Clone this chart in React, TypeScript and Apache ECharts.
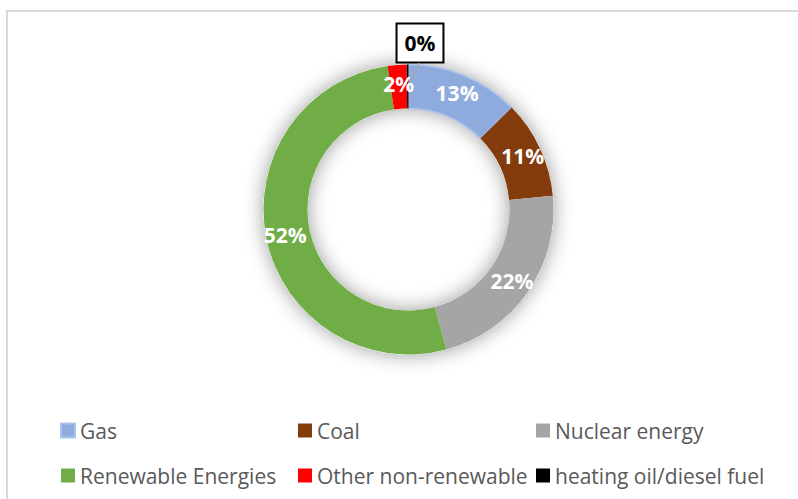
import React, { useEffect, useRef } from "react";
import * as echarts from "echarts";

const categories = ["Gas", "Coal", "Nuclear energy", "Renewable Energies", "Other non-renewable", "heating oil/diesel fuel"];
const shares = [12.6, 10.9, 22.3, 51.9, 2.1, 0.2];
const colors = ["#8FAADC", "#843C0C", "#A5A5A5", "#70AD47", "#FF0000", "#000000"];
const legendColumns = [
  ["Gas", "Renewable Energies"],
  ["Coal", "Other non-renewable"],
  ["Nuclear energy", "heating oil/diesel fuel"],
];

const FONT = "'Open Sans', sans-serif";

export default function App() {
  const ref = useRef<HTMLDivElement>(null);

  useEffect(() => {
    if (!ref.current) return;
    const chart = echarts.init(ref.current, null, { renderer: "svg" });
    const center = [408.5, 209.5];
    const radius = [101, 145];

    const data = categories.map((name, i) => {
      const item: any = {
        name,
        value: shares[i],
        itemStyle: { color: colors[i] },
      };
      if (i === 0) {
        item.itemStyle.borderColor = "#A9C6EE";
        item.itemStyle.borderWidth = 1.5;
      }
      if (i === categories.length - 1) {
        item.label = {
          position: "outside",
          color: "#000",
          backgroundColor: "#fff",
          borderColor: "#000",
          borderWidth: 2,
          padding: [6, 7],
          lineHeight: 25,
        };
        item.labelLine = { show: false };
      }
      return item;
    });

    const legendBase = {
      orient: "vertical",
      top: 420,
      padding: 0,
      itemWidth: 14,
      itemHeight: 14,
      itemGap: 24,
      icon: "rect",
      selectedMode: false,
      textStyle: { fontFamily: FONT, fontSize: 21, color: "#595959", lineHeight: 20 },
    };

    chart.setOption({
      animation: false,
      backgroundColor: "#fff",
      color: colors,
      graphic: [
        {
          type: "rect",
          shape: { x: 7, y: 11, width: 900, height: 600 },
          style: { fill: "none", stroke: "#D9D9D9", lineWidth: 2 },
          silent: true,
          z: -10,
        },
        {
          type: "line",
          shape: { x1: 419, y1: 63, x2: 410, y2: 83 },
          style: { stroke: "#A6A6A6", lineWidth: 1.5 },
          silent: true,
          z: 10,
        },
      ],
      legend: legendColumns.map((col, c) => ({
        ...legendBase,
        left: [60, 298, 536][c],
        data: col,
      })),
      series: [
        {
          type: "pie",
          silent: true,
          center,
          radius,
          label: { show: false },
          labelLine: { show: false },
          itemStyle: { color: "#fff", shadowBlur: 20, shadowColor: "rgba(0,0,0,0.4)" },
          data: [{ name: "_bg", value: 1 }],
          z: 1,
        },
        {
          type: "pie",
          center,
          radius,
          startAngle: 90,
          clockwise: true,
          minAngle: 0,
          avoidLabelOverlap: false,
          z: 2,
          label: {
            show: true,
            position: "inside",
            fontFamily: FONT,
            fontSize: 21,
            fontWeight: "bold",
            color: "#fff",
            formatter: (p: any) => Math.round(p.percent) + "%",
          },
          labelLine: { show: false },
          labelLayout: (p: any) =>
            p.dataIndex === categories.length - 1
              ? { x: 420, y: 43, align: "center", verticalAlign: "middle" }
              : {},
          data,
        },
      ],
    });
    return () => chart.dispose();
  }, []);

  return <div ref={ref} style={{ position: "fixed", left: 0, top: 0, width: 798, height: 499 }} />;
}
